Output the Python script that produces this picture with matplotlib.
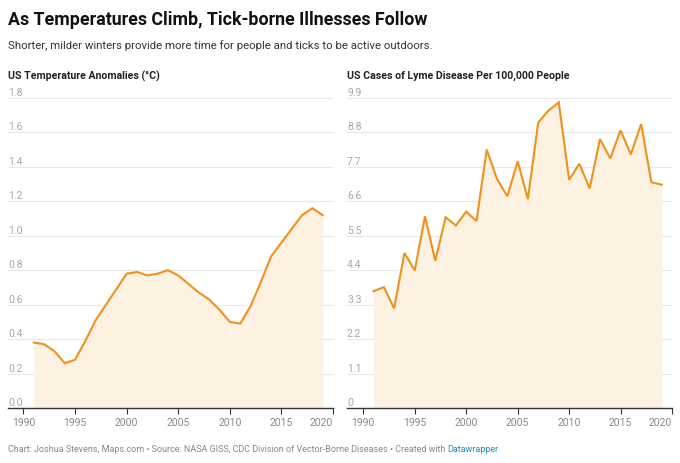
import matplotlib.pyplot as plt

plt.rcParams['font.family'] = ['Roboto', 'DejaVu Sans']

# data
years = list(range(1991, 2020))
temp_anom = [0.38, 0.37, 0.33, 0.26, 0.28, 0.39, 0.51, 0.60, 0.69, 0.78,
             0.79, 0.77, 0.78, 0.80, 0.77, 0.72, 0.67, 0.63, 0.57, 0.50,
             0.49, 0.59, 0.73, 0.88, 0.96, 1.04, 1.12, 1.16, 1.12]
lyme_rate = [3.73, 3.86, 3.18, 4.95, 4.39, 6.12, 4.70, 6.09, 5.83, 6.27,
             5.97, 8.25, 7.31, 6.76, 7.88, 6.67, 9.12, 9.50, 9.76, 7.29,
             7.80, 7.01, 8.59, 7.97, 8.87, 8.10, 9.07, 7.21, 7.13]

temp_ticks = [0.0, 0.2, 0.4, 0.6, 0.8, 1.0, 1.2, 1.4, 1.6, 1.8]
temp_labels = ['0.0', '0.2', '0.4', '0.6', '0.8', '1.0', '1.2', '1.4', '1.6', '1.8']
lyme_ticks = [0, 1.1, 2.2, 3.3, 4.4, 5.5, 6.6, 7.7, 8.8, 9.9]
lyme_labels = ['0', '1.1', '2.2', '3.3', '4.4', '5.5', '6.6', '7.7', '8.8', '9.9']
year_ticks = [1990, 1995, 2000, 2005, 2010, 2015, 2020]

title = 'As Temperatures Climb, Tick-borne Illnesses Follow'
subtitle = 'Shorter, milder winters provide more time for people and ticks to be active outdoors.'
panel_titles = ['US Temperature Anomalies (°C)', 'US Cases of Lyme Disease Per 100,000 People']

line_color = '#f0911c'
fill_color = '#fdf1e2'

fig = plt.figure(figsize=(6.8, 4.63), dpi=100)
W, H = 680, 463


def panel(left_px, right_px, values, ticks, labels, ptitle, xmin):
    ax = fig.add_axes([left_px / W, (H - 408) / H, (right_px - left_px) / W, (408 - 98) / H])
    ax.fill_between(years, values, 0, color=fill_color, lw=0)
    ax.plot(years, values, color=line_color, lw=1.5, solid_joinstyle='miter')
    ax.set_xlim(xmin, 2020)
    ax.set_ylim(ticks[0], ticks[-1])
    for t, lab in zip(ticks, labels):
        if t != ticks[0]:
            ax.axhline(t, color='#e8e8e8', lw=0.9, zorder=0)
        ax.text(0, t, lab, transform=ax.get_yaxis_transform(), ha='left', va='bottom',
                fontsize=7.5, color='#a8a8a8')
    ax.set_yticks([])
    ax.set_xticks(year_ticks)
    ax.tick_params(axis='x', length=4, width=0.8, color='#333333', labelsize=7.5,
                   labelcolor='#888888', pad=3)
    ax.get_xticklabels()[-1].set_ha('right')
    for s in ['top', 'right', 'left']:
        ax.spines[s].set_visible(False)
    ax.spines['bottom'].set_color('#333333')
    ax.spines['bottom'].set_linewidth(1)
    ax.set_facecolor('none')
    fig.text(left_px / W, 1 - 76 / H, ptitle, fontsize=7.6, fontweight='bold',
             color='#222222', va='center', ha='left')
    return ax


panel(8, 333, temp_anom, temp_ticks, temp_labels, panel_titles[0], 1988.5)
panel(347, 672, lyme_rate, lyme_ticks, lyme_labels, panel_titles[1], 1988.42)

fig.text(8 / W, 1 - 20 / H, title, fontsize=12.8, fontweight='bold', color='#111111',
         va='center', ha='left')
fig.text(8 / W, 1 - 46 / H, subtitle, fontsize=8.2, color='#333333', va='center', ha='left')

footer = fig.text(8 / W, 1 - 450 / H,
                  'Chart: Joshua Stevens, Maps.com \u2022 Source: NASA GISS, CDC Division of '
                  'Vector-Borne Diseases \u2022 Created with ',
                  fontsize=6.5, color='#888888', va='center', ha='left')
fig.canvas.draw()
bb = footer.get_window_extent()
fig.text(bb.x1 / W, 1 - 450 / H, 'Datawrapper', fontsize=6.5, color='#1d8bc0',
         va='center', ha='left')

fig.savefig('out.png', dpi=100)
